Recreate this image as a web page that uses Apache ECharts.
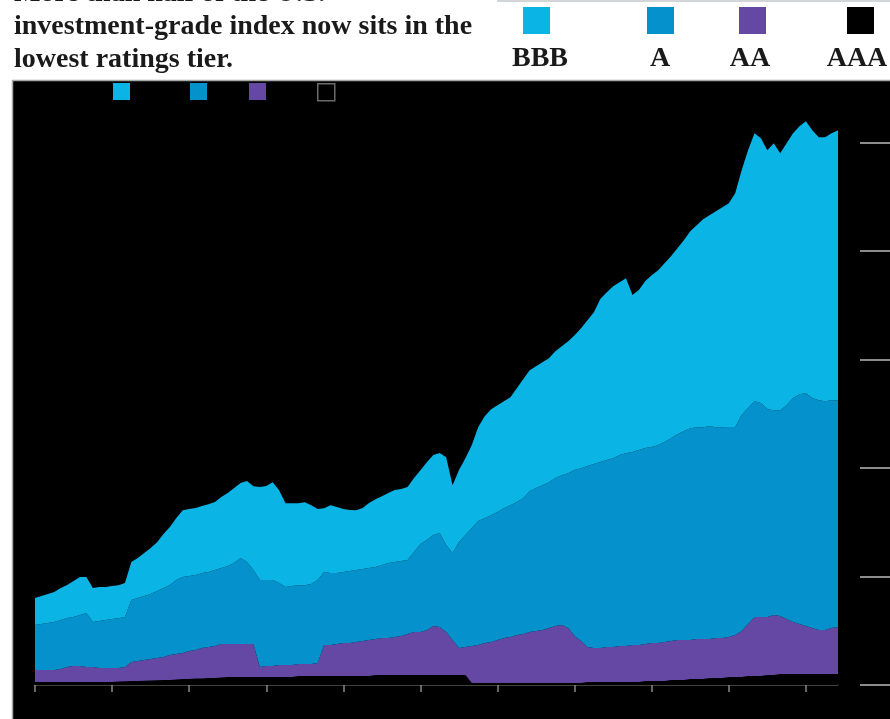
<!DOCTYPE html>
<html>
<head>
<meta charset="utf-8">
<script src="https://cdn.jsdelivr.net/npm/echarts@6/dist/echarts.min.js"></script>
<style>
html,body{margin:0;padding:0;background:#fff;}
#chart{width:890px;height:719px;}
</style>
</head>
<body>
<div id="chart"></div>
<script>
// Monthly categories, Jan 2008 .. Jun 2018
const months = [];
for (let y = 2008; y <= 2018; y++) {
  for (let m = 1; m <= 12; m++) {
    if (months.length < 126) months.push(y + '-' + String(m).padStart(2, '0'));
  }
}
const tickYears = ['2008','2009','2010','2011','2012','2013','2014','2015','2016','2017','2018'];
const yTicks = [0, 1000, 2000, 3000, 4000, 5000];

// Market value by rating tier ($ billions)
const AAA = [
  28,28,28,28,28,28,28,28,28,28,
  28,28,28,32,34,37,37,40,41,43,
  46,46,51,55,55,60,60,64,64,69,
  74,74,74,74,74,74,74,74,74,74,
  74,83,83,83,83,83,83,83,83,83,
  83,83,83,92,92,92,92,92,92,92,
  92,92,92,92,92,92,92,92,18,18,
  18,18,18,18,18,18,18,18,18,18,
  18,18,18,18,18,18,28,28,28,28,
  28,28,28,28,28,37,37,37,37,46,
  46,46,55,55,55,64,64,64,74,74,
  74,83,83,83,92,92,101,101,101,101,
  101,101,101,101,101,101
];
const AA = [
  110,110,110,110,120,138,147,147,138,138,
  129,129,129,124,132,175,184,191,198,205,
  212,230,235,239,258,262,281,285,295,308,
  304,304,304,304,304,92,101,101,110,110,
  110,110,110,110,120,285,285,295,304,304,
  313,322,331,331,341,341,350,359,378,396,
  396,414,451,442,396,322,249,258,341,350,
  368,378,396,414,424,442,451,470,479,488,
  506,525,534,506,433,387,322,313,313,322,
  322,331,331,341,341,341,350,350,359,359,
  368,368,359,368,368,359,368,368,368,387,
  424,479,543,543,534,552,534,506,479,460,
  442,424,405,405,424,433
];
const A = [
  414,424,433,442,451,451,451,470,497,414,
  433,442,451,460,460,571,580,589,599,617,
  635,645,681,700,691,691,691,691,700,700,
  718,746,792,755,681,801,792,792,755,718,
  727,727,727,737,764,672,663,654,654,663,
  663,663,663,663,672,691,691,691,681,737,
  810,829,838,866,801,801,976,1031,1087,1142,
  1151,1169,1179,1197,1215,1225,1252,1298,1317,1335,
  1344,1363,1381,1427,1529,1593,1667,1694,1713,1722,
  1740,1759,1777,1777,1796,1805,1805,1823,1842,1869,
  1897,1924,1952,1952,1952,1961,1943,1943,1934,1915,
  1989,1989,1989,1971,1915,1888,1897,1971,2063,2118,
  2145,2118,2118,2109,2099,2090
];
const BBB = [
  249,258,267,276,295,304,331,350,331,313,
  313,304,304,304,313,350,368,396,424,451,
  497,534,571,617,617,617,617,626,626,654,
  672,691,691,746,773,856,866,902,856,773,
  764,755,764,727,654,589,626,608,580,562,
  552,562,599,626,635,645,663,663,672,681,
  681,718,737,737,810,626,663,709,764,866,
  939,976,985,985,994,1050,1096,1114,1123,1133,
  1142,1169,1188,1215,1243,1289,1344,1400,1501,1547,
  1584,1593,1611,1446,1473,1538,1584,1611,1648,1676,
  1713,1759,1814,1860,1915,1943,1989,2026,2063,2155,
  2256,2376,2468,2440,2385,2459,2366,2412,2440,2468,
  2505,2468,2422,2431,2459,2486
];

const tierNames = ['BBB', 'A', 'AA', 'AAA'];
const tierColors = { BBB: '#0ab4e4', A: '#0592cc', AA: '#6548a4', AAA: '#000000' };
const tierData = { AAA: AAA, AA: AA, A: A, BBB: BBB };

const titleText = 'More than half of the U.S.\ninvestment-grade index now sits in the\nlowest ratings tier.';
const serif = '"Liberation Serif", "Times New Roman", serif';

const chart = echarts.init(document.getElementById('chart'), null, { renderer: 'canvas' });

const bigLegendX = { BBB: 523, A: 647, AA: 739, AAA: 847 };
const labelX = { BBB: 540, A: 660, AA: 750, AAA: 857 };
const smallLegendX = { BBB: 113, A: 190, AA: 249, AAA: 317 };

const legends = [];
tierNames.forEach(n => {
  legends.push({
    data: [n], left: bigLegendX[n], top: 7, padding: 0,
    itemWidth: 27, itemHeight: 27, icon: 'rect', selectedMode: false,
    formatter: () => '', textStyle: { fontSize: 10 }
  });
  legends.push({
    data: [n], left: smallLegendX[n], top: 83, padding: 0,
    itemWidth: 17, itemHeight: 17, icon: 'rect', selectedMode: false,
    formatter: () => '', textStyle: { fontSize: 10 },
    itemStyle: n === 'AAA' ? { borderColor: '#6a6a6a', borderWidth: 1.5 } : {}
  });
});

const graphics = [
  { type: 'rect', z: -10, silent: true,
    shape: { x: 12.5, y: 80.5, width: 900, height: 700 },
    style: { fill: '#000', stroke: '#a8a8a8', lineWidth: 1.5 } },
  { type: 'line', z: -10, silent: true,
    shape: { x1: 497, y1: 1, x2: 890, y2: 1 },
    style: { stroke: '#c4c8cc', lineWidth: 1.5 } }
];
tierNames.forEach(n => {
  graphics.push({
    type: 'text', silent: true, x: labelX[n], y: 59,
    style: { text: n, align: 'center', verticalAlign: 'middle',
      font: 'bold 28px ' + serif, fill: '#1a1a1a' }
  });
});

const stackOrder = ['AAA', 'AA', 'A', 'BBB'];

chart.setOption({
  animation: false,
  backgroundColor: '#ffffff',
  title: {
    text: titleText, left: 14, top: -23, padding: 0,
    textStyle: { fontFamily: serif, fontWeight: 'bold', fontSize: 28, lineHeight: 33, color: '#1a1a1a' }
  },
  legend: legends,
  graphic: graphics,
  grid: { left: 35, right: 52, top: 88, bottom: 34, containLabel: false },
  xAxis: {
    type: 'category', data: months, boundaryGap: false,
    axisLine: { show: true, lineStyle: { color: '#55554a', width: 1.5 } },
    axisTick: { show: true, length: 7, lineStyle: { color: '#8a8a80', width: 1.5 },
      interval: (i, v) => tickYears.includes(v.slice(0, 4)) && v.endsWith('-01') },
    axisLabel: { show: false },
    splitLine: { show: false }
  },
  yAxis: {
    type: 'value', min: 0, max: 5500, interval: 1000, position: 'right', offset: 52,
    axisLine: { show: false },
    axisTick: { show: true, inside: true, length: 30, customValues: yTicks,
      lineStyle: { color: '#8c8c8c', width: 2 } },
    axisLabel: { show: false, customValues: yTicks },
    splitLine: { show: false }
  },
  series: stackOrder.map(n => ({
    name: n, type: 'line', stack: 'total', data: tierData[n],
    showSymbol: false, symbol: 'none', smooth: false,
    color: tierColors[n],
    lineStyle: { width: 0, color: tierColors[n] },
    areaStyle: { color: tierColors[n], opacity: 1 },
    itemStyle: { color: tierColors[n] }
  }))
});
</script>
</body>
</html>
